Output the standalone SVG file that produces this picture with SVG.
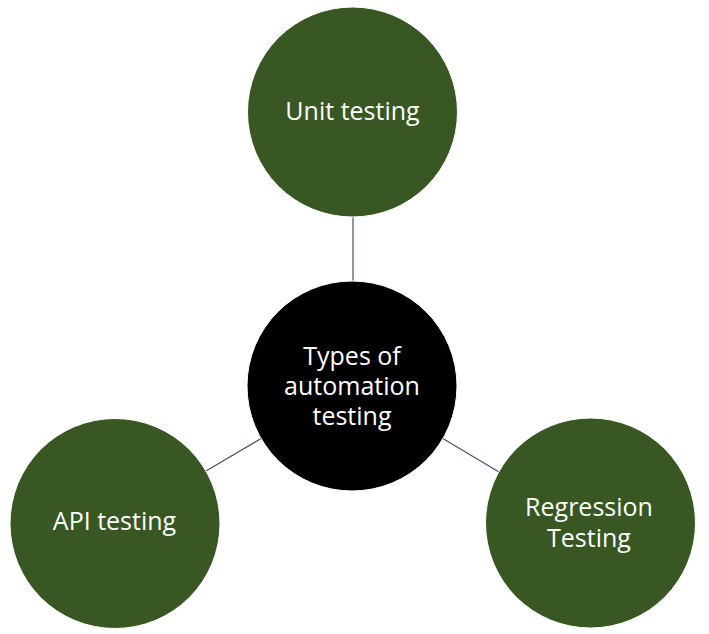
<svg xmlns="http://www.w3.org/2000/svg" width="709" height="634" viewBox="0 0 709 634">
<style>
.leaf{fill:#385723;stroke:#ffffff;stroke-width:1}
.hub{fill:#000000;stroke:#ffffff;stroke-width:1}
.lbl{font-family:"Open Sans","Liberation Sans",sans-serif;font-size:25px;fill:#ffffff;text-anchor:middle}
.conn{stroke:#44546A;stroke-width:1.2;fill:none}
</style>
<rect width="709" height="634" fill="#ffffff"/>
<g id="connectors">
<line class="conn" x1="353" y1="217" x2="353" y2="282"/>
<line class="conn" x1="206" y1="471" x2="262" y2="438"/>
<line class="conn" x1="442" y1="438" x2="499" y2="472"/>
</g>
<g id="node-unit">
<circle class="leaf" cx="352.5" cy="112" r="105"/>
<text class="lbl" x="352.5" y="120">Unit testing</text>
</g>
<g id="node-hub">
<circle class="hub" cx="352" cy="386" r="105"/>
<text class="lbl" x="352" y="365">Types of</text>
<text class="lbl" x="352" y="395">automation</text>
<text class="lbl" x="352" y="425">testing</text>
</g>
<g id="node-api">
<circle class="leaf" cx="115" cy="523.5" r="105"/>
<text class="lbl" x="114.5" y="530">API testing</text>
</g>
<g id="node-regression">
<circle class="leaf" cx="590.5" cy="523" r="105"/>
<text class="lbl" x="589" y="516">Regression</text>
<text class="lbl" x="589" y="547">Testing</text>
</g>
</svg>
